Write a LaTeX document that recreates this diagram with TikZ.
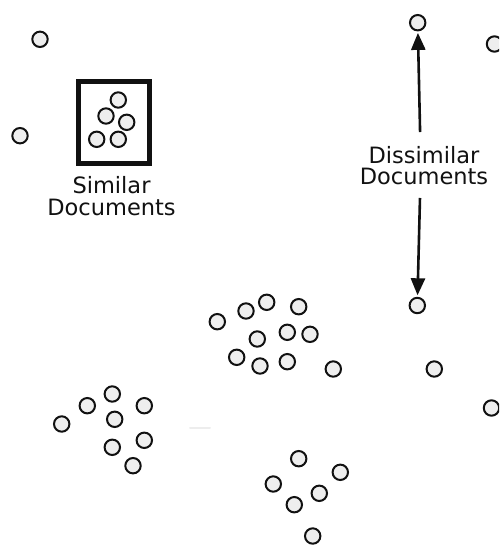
\documentclass[tikz,border=0pt]{standalone}
\usepackage{fontspec}
\setmainfont{DejaVu Sans}
\usetikzlibrary{arrows.meta}

\definecolor{docfill}{HTML}{EEEEEE}
\definecolor{ink}{HTML}{111111}

\tikzset{
  doc/.style={circle, draw=ink, fill=docfill, line width=2pt,
    minimum size=15.4pt, inner sep=0pt},
  label/.style={align=center, inner sep=0pt, text=ink,
    font=\fontsize{22.5pt}{21.2pt}\selectfont},
  groupbox/.style={rectangle, draw=ink, line width=4.8pt, inner sep=0pt,
    minimum width=70.7pt, minimum height=82.1pt},
  spread/.style={draw=ink, line width=2.6pt,
    -{Triangle[length=17pt,width=14pt]}, shorten <=33pt, shorten >=1.5pt}
}

\begin{document}
\begin{tikzpicture}[x=1pt, y=-1pt]
  \useasboundingbox (0,0) rectangle (499,546);
  \clip (0,0) rectangle (499,546);

  % scattered single documents
  \node[doc] (s1) at (40,39.3) {};
  \node[doc] (s2) at (20,135.7) {};
  \node[doc] (far1) at (417.7,22.7) {};
  \node[doc] (s3) at (494.5,44) {};
  \node[doc] (far2) at (417.3,305.5) {};
  \node[doc] (s4) at (434.3,369) {};
  \node[doc] (s5) at (491.5,408) {};

  % tight group inside the frame
  \node[groupbox] (frame) at (113.85,122.25) {};
  \foreach \p [count=\i] in {(118.3,100),(106,116),(126.7,122.3),(96.7,139.3),(118.3,139.3)}
    \node[doc] (g\i) at \p {};
  \node[label] (simlabel) at (111.5,196.1) {Similar\\Documents};

  % central cluster
  \foreach \p [count=\i] in {(217.3,321.7),(246,311),(266.7,302.3),(298.7,306.7),
      (257.3,339),(287.3,332.3),(310,334.3),(236.7,357.3),(260,366),
      (287.3,361.7),(333.3,369)}
    \node[doc] (m\i) at \p {};

  % lower left cluster
  \foreach \p [count=\i] in {(61.7,424),(87.3,405.7),(112.3,394),(144.3,405.7),
      (114.7,419.3),(144.3,440.3),(112.3,447.3),(133,465.7)}
    \node[doc] (l\i) at \p {};

  % lower cluster
  \foreach \p [count=\i] in {(298.7,458.7),(340.3,472.3),(273.3,484),
      (319.3,493.3),(294.3,504.7),(312.7,536)}
    \node[doc] (b\i) at \p {};

  % faint stray mark
  \draw[black!7, line width=2pt, line cap=round] (190,427.5) -- (210,427.5);

  % distance between two far-apart documents
  \node[label] (dislabel) at (424,165.6) {Dissimilar\\Documents};
  \coordinate (hub) at (420.8,165);
  \draw[spread] (hub) -- (far1);
  \draw[spread] (hub) -- (far2);
\end{tikzpicture}
\end{document}
